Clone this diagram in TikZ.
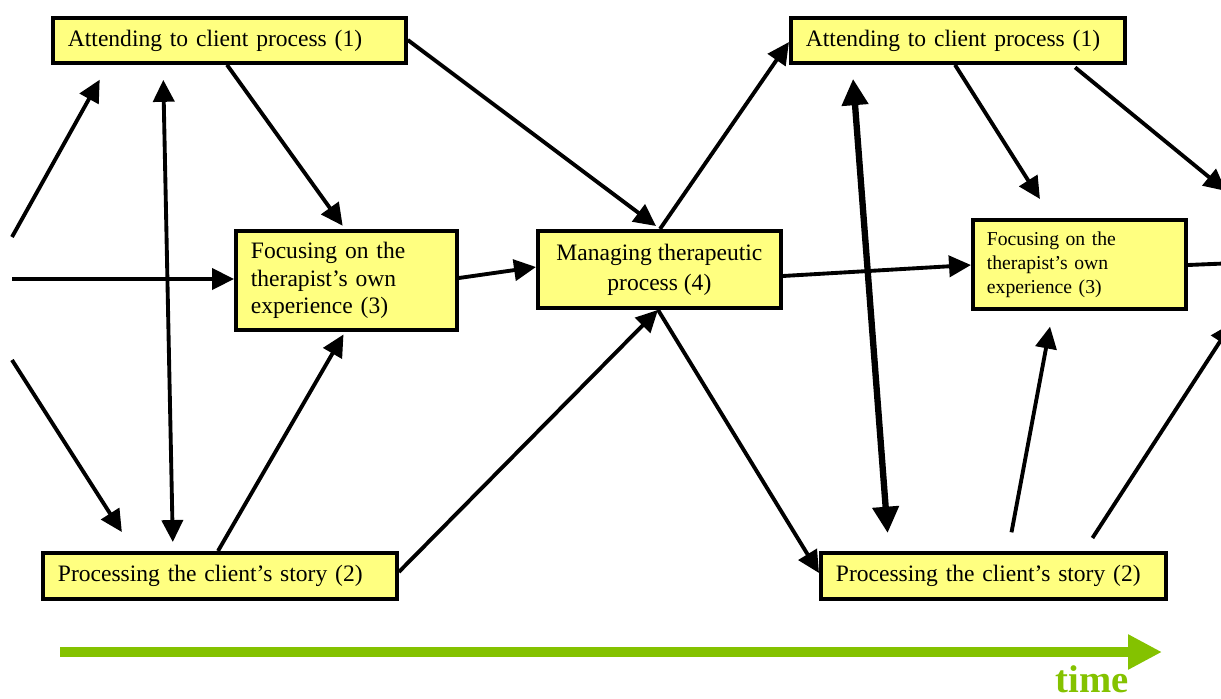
\documentclass[tikz,border=0pt]{standalone}
\usepackage{fontspec}
\setmainfont{Liberation Serif}
\usetikzlibrary{arrows.meta}
\definecolor{boxyellow}{RGB}{255,255,128}
\definecolor{timegreen}{RGB}{132,194,0}
\tikzset{
  basic/.style  = {draw, line width=2.2pt, fill=boxyellow, rectangle,
                   font=\fontsize{13.4}{15.6}\selectfont},
  stage/.style  = {basic, anchor=north west, align=left, inner xsep=0.3cm},
  hub/.style    = {basic, anchor=north west, align=center,
                   font=\fontsize{13.4}{17}\selectfont},
  link/.style   = {->, line width=2.2pt},
  bold link/.style = {<->, line width=3.6pt,
                   >={Triangle[length=15pt,width=14.5pt]}},
  timeline/.style = {-{Triangle[length=0.68cm,width=0.66cm]},
                   line width=5.7pt, timegreen},
  timelabel/.style = {anchor=base, text=timegreen, inner sep=0pt,
                   font=\fontsize{22}{24}\selectfont\bfseries}
}

\begin{document}
\begin{tikzpicture}[
  x=0.02cm, y=-0.02cm,
  >={Triangle[length=12.5pt,width=12pt]}]
  \useasboundingbox (0,0) rectangle (1221,698);
  \clip (0,0) rectangle (1221,698);

  % first round: the three processes and the managing box
  \node[stage, text width=6.46cm, minimum height=0.9cm] (att1) at (51,16)
    {Attending to client process (1)};
  \node[stage, text width=3.82cm, minimum height=1.98cm] (focus1) at (234,229)
    {Focusing on the\\ therapist's own\\ experience (3)};
  \node[stage, text width=6.48cm, minimum height=0.92cm] (proc1) at (41,551)
    {Processing the client's story (2)};
  \node[hub, minimum width=4.86cm, minimum height=1.54cm] (manage) at (536,229)
    {Managing therapeutic\\ process (4)};

% second round, smaller text in the focusing box
  \node[stage, text width=6.08cm, minimum height=0.9cm] (att2) at (789,16)
    {Attending to client process (1)};
  \node[stage, text width=3.7cm, minimum height=1.78cm, inner xsep=0.28cm,
        font=\fontsize{11.2}{13.7}\selectfont] (focus2) at (971,218)
    {Focusing on the\\ therapist's own\\ experience (3)};
  \node[stage, text width=6.3cm, minimum height=0.92cm] (proc2) at (819,551)
    {Processing the client's story (2)};

  % loose ends at the left and right border
  \foreach \name/\y in {inA/237, inB/279, inC/360}
    \coordinate (\name) at (12,\y);
  \coordinate (outA) at (1226,191);
  \coordinate (outB) at (1260,262);
  \coordinate (outC) at (1232,323);

  % arrows of the first round
  \draw[link, shorten >=0.34cm] (inA) -- (108,0 |- att1.south);
  \draw[link] (inB) -- (inB -| focus1.west);
  \draw[link, shorten >=0.45cm] (inC) -- (134,0 |- proc1.north);
  \draw[link, <->, shorten <=0.3cm, shorten >=0.18cm]
    (163,0 |- att1.south) -- (173,0 |- proc1.north);
  \draw[link, shorten >=0.08cm] (227,0 |- att1.south) -- (345,0 |- focus1.north);
  \draw[link, shorten >=0.06cm] (218,0 |- proc1.north) -- (345,0 |- focus1.south);

  % arrows into and out of the managing box
  \draw[link, shorten >=0.1cm] (0,40 -| att1.east) -- (660,0 |- manage.north);
  \draw[link] (0,278 -| focus1.east) -- (0,267 -| manage.west);
  \draw[link] (0,572 -| proc1.east) -- (658,0 |- manage.south);
  \draw[link] (660,0 |- manage.north) -- (0,42 -| att2.west);
  \draw[link] (658,0 |- manage.south) -- (0,573 -| proc2.west);
  \draw[link] (0,276 -| manage.east) -- (0,265 -| focus2.west);

  % arrows of the second round
  \draw[bold link, shorten <=0.28cm, shorten >=0.36cm]
    (852,0 |- att2.south) -- (889,0 |- proc2.north);
  \draw[link, shorten >=0.45cm] (955,0 |- att2.south) -- (1052,0 |- focus2.north);
  \draw[link, shorten <=0.08cm] (1072,0 |- att2.south) -- (outA);
  \draw[link] (0,265 -| focus2.east) -- (outB);
  \draw[link, shorten <=0.38cm, shorten >=0.32cm]
    (1008,0 |- proc2.north) -- (1053,0 |- focus2.south);
  \draw[link, shorten <=0.31cm] (1084,0 |- proc2.north) -- (outC);

  % time axis
  \coordinate (t0) at (60,652);
  \coordinate (t1) at (1162,652);
  \draw[timeline] (t0) -- (t1);
  \node[timelabel] (time) at (1092,692) {time};
\end{tikzpicture}
\end{document}
